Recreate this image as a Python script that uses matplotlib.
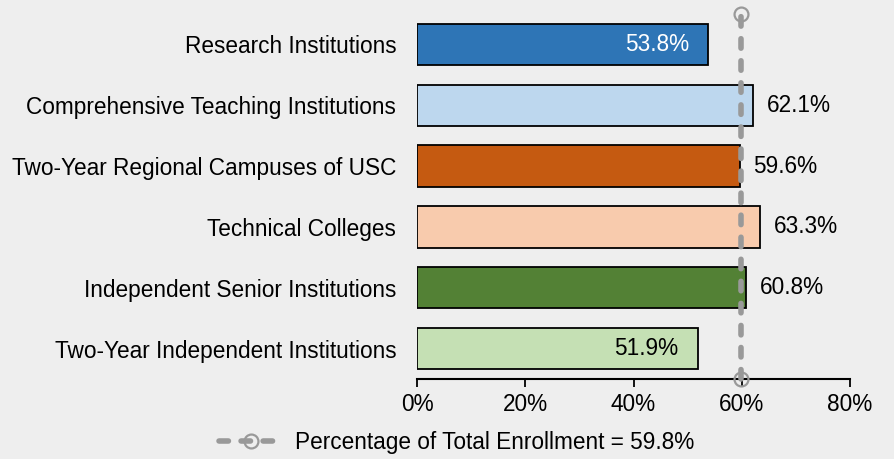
import matplotlib
matplotlib.use("Agg")
import matplotlib.pyplot as plt
from matplotlib.lines import Line2D

plt.rcParams['font.family'] = ['Liberation Sans', 'DejaVu Sans']

categories = [
    "Research Institutions",
    "Comprehensive Teaching Institutions",
    "Two-Year Regional Campuses of USC",
    "Technical Colleges",
    "Independent Senior Institutions",
    "Two-Year Independent Institutions",
]
values = [53.8, 62.1, 59.6, 63.3, 60.8, 51.9]
colors = ["#2e75b6", "#bdd7ee", "#c55a11", "#f8cbad", "#538135", "#c5e0b4"]
inside_label = [True, False, False, False, False, True]
label_colors = ["white", "black", "black", "black", "black", "black"]
total_value = 59.8
xticks = [0, 20, 40, 60, 80]
legend_label = "Percentage of Total Enrollment = 59.8%"

FS = 16.3
bg = "#eeeeee"
fig = plt.figure(figsize=(8.94, 4.59), dpi=100, facecolor=bg)
ax = fig.add_axes([417/894, 1-379/459, (850-417)/894, (379-14)/459])
ax.set_facecolor(bg)

pos = list(range(len(categories)))
ax.barh(pos, values, height=0.68, color=colors, edgecolor="black", linewidth=1.3, zorder=2)
ax.set_ylim(5.5, -0.5)
ax.set_xlim(0, 80)

for p, v, ins, lc in zip(pos, values, inside_label, label_colors):
    txt = f"{v:.1f}%"
    if ins:
        ax.annotate(txt, (v, p), xytext=(-14, 0), textcoords="offset points",
                    ha="right", va="center", color=lc, fontsize=FS, zorder=4)
    else:
        ax.annotate(txt, (v, p), xytext=(10, 0), textcoords="offset points",
                    ha="left", va="center", color=lc, fontsize=FS, zorder=4)

line_kw = dict(color="#999999", lw=4, linestyle=(0, (1.7, 2.27)), dash_capstyle="round",
               marker="o", markersize=10, markerfacecolor="none", markeredgecolor="#999999",
               markeredgewidth=1.6)
ax.plot([total_value, total_value], [5.5, -0.5], zorder=5, clip_on=False, **line_kw)

ax.set_yticks(pos)
ax.set_yticklabels(categories, fontsize=FS)
ax.tick_params(axis="y", length=0, pad=15)
ax.set_xticks(xticks)
ax.set_xticklabels([f"{t}%" for t in xticks], fontsize=FS)
ax.tick_params(axis="x", length=6, width=1.3, direction="out", pad=4)
for s in ["top", "right", "left"]:
    ax.spines[s].set_visible(False)
ax.spines["bottom"].set_linewidth(1.5)

handle = Line2D([], [], **line_kw)
fig.legend([handle], [legend_label], loc="center", bbox_to_anchor=(457/894, 1-442/459),
           frameon=False, fontsize=FS, handlelength=2.8, handletextpad=0.55)

fig.savefig("out.png", dpi=100, facecolor=bg)
